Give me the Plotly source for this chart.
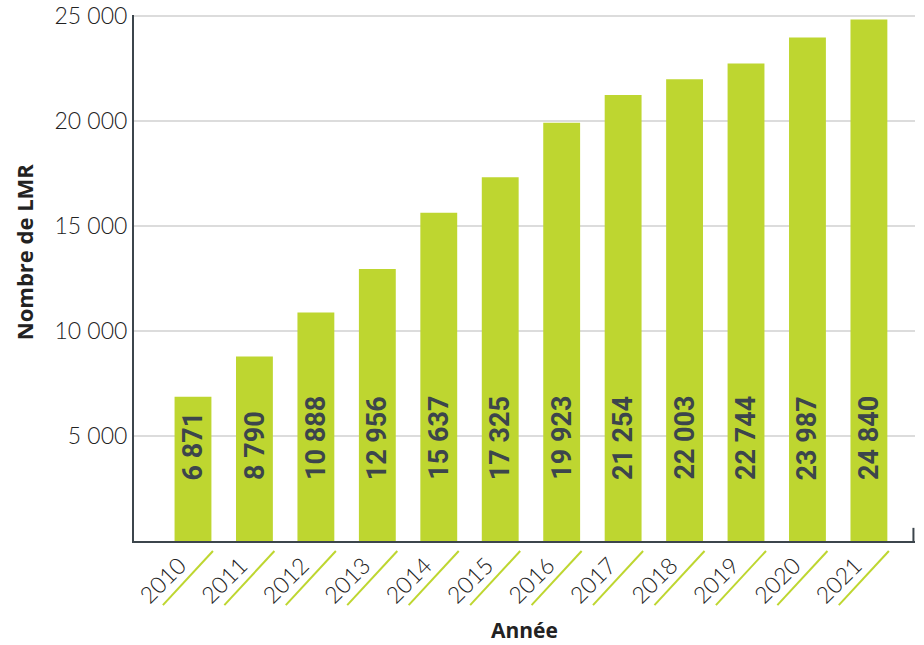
import plotly.graph_objects as go

years = ["2010", "2011", "2012", "2013", "2014", "2015",
         "2016", "2017", "2018", "2019", "2020", "2021"]
lmr_counts = [6871, 8790, 10888, 12956, 15637, 17325,
              19923, 21254, 22003, 22744, 23987, 24840]
y_ticks = [5000, 10000, 15000, 20000, 25000]
y_tick_labels = ["5 000", "10 000", "15 000", "20 000", "25 000"]

GREEN = "#bed630"
DARK = "#3c454c"
TEXT = "#222222"
FONT = "Lato"
TITLE_FONT = "Open Sans"

idx = list(range(len(years)))

fig = go.Figure(
    go.Bar(
        x=idx,
        y=lmr_counts,
        width=0.6,
        marker=dict(color=GREEN, line=dict(width=0)),
        hoverinfo="skip",
    )
)


def fmt(v):
    return f"{v:,}".replace(",", " ")


# vertical value labels sitting inside each bar
annotations = [
    dict(
        x=i, y=0, xref="x", yref="y",
        text=f"<b>{fmt(v)}</b>",
        textangle=-90,
        showarrow=False,
        xanchor="center", yanchor="bottom",
        yshift=59,
        font=dict(family="Roboto", size=27, color=DARK),
    )
    for i, v in zip(idx, lmr_counts)
]

annotations.append(dict(
    x=-0.1415, y=0.55, xref="paper", yref="paper",
    xanchor="center", yanchor="middle",
    text="<b>Nombre de LMR</b>", textangle=-90, showarrow=False,
    font=dict(family=TITLE_FONT, size=22, color=TEXT),
))
annotations.append(dict(
    x=0.5, y=-0.17, xref="paper", yref="paper",
    xanchor="center", yanchor="middle",
    text="<b>Année</b>", showarrow=False,
    font=dict(family=TITLE_FONT, size=21, color=TEXT),
))

# green diagonal strokes underlining each year label
shapes = [
    dict(
        type="line", xref="x", yref="paper",
        x0=i - 0.49, x1=i + 0.325, y0=-0.122, y1=-0.019,
        line=dict(color=GREEN, width=2),
    )
    for i in idx
]
# small closing tick at the right end of the category axis
shapes.append(dict(
    type="line", xref="paper", yref="paper",
    x0=0.998, x1=0.998, y0=0, y1=0.025,
    line=dict(color=DARK, width=2),
))

fig.update_layout(
    width=924, height=645,
    margin=dict(l=134, r=9, t=15, b=104),
    plot_bgcolor="white", paper_bgcolor="white",
    showlegend=False,
    annotations=annotations,
    shapes=shapes,
    font=dict(family=FONT, color=TEXT),
)

# year labels are nudged left so they sit above their green strokes
fig.update_xaxes(
    range=[-0.96, 11.75],
    tickvals=[i - 0.22 for i in idx], ticktext=years,
    tickangle=-45,
    tickfont=dict(family=FONT, size=23, color=TEXT, weight=300),
    ticklen=0, ticklabelstandoff=0,
    showline=True, linecolor=DARK, linewidth=2,
    showgrid=False, zeroline=False,
    automargin=False,
)

fig.update_yaxes(
    range=[0, 25060],
    tickvals=y_ticks, ticktext=y_tick_labels,
    tickfont=dict(family=FONT, size=23, color=TEXT, weight=300),
    ticklen=0, ticklabelstandoff=0,
    showline=True, linecolor=DARK, linewidth=2,
    showgrid=True, gridcolor="#dcdcdc", gridwidth=2,
    zeroline=False,
    automargin=False,
)

fig.write_html("out.html")
